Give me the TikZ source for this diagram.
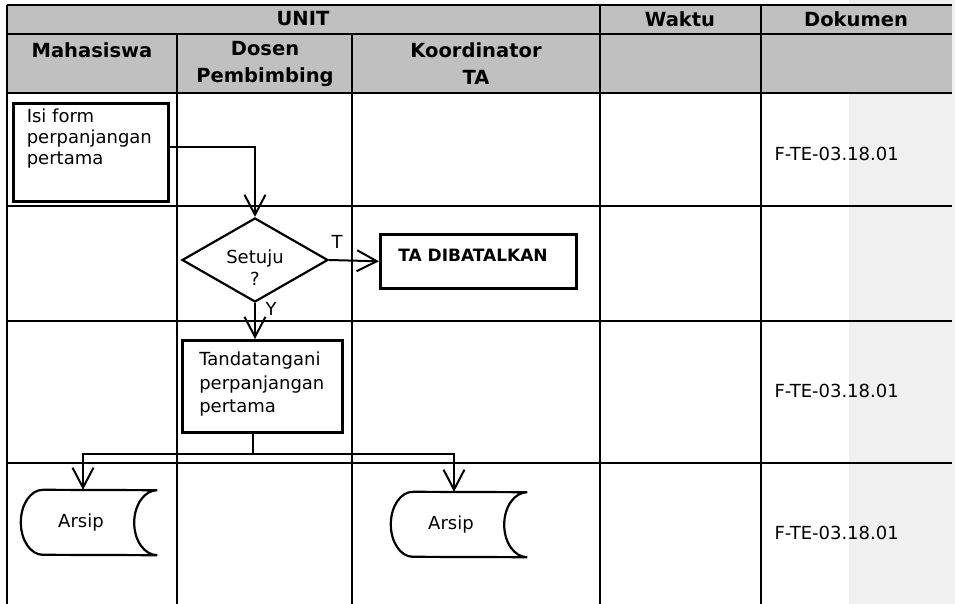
\documentclass[tikz,border=0pt]{standalone}
\usepackage{fontspec}
\setmainfont{DejaVu Sans}
\usetikzlibrary{shapes.geometric,arrows.meta}

\definecolor{headgray}{HTML}{C0C0C0}
\definecolor{stripgray}{HTML}{F0F0F0}

\begin{document}
\begin{tikzpicture}[x=1pt, y=-1pt, >={Straight Barb[length=20pt,width=21pt]},
  every node/.style={font=\fontsize{18}{22}\selectfont},
  grid/.style={line width=2.2pt},
  head/.style={font=\bfseries\fontsize{19.5}{27}\selectfont, align=center},
  proc/.style={draw, line width=2.6pt, anchor=north west},
  decision/.style={diamond, draw, line width=2.2pt, aspect=1.74, minimum width=146pt, minimum height=84pt, inner sep=0pt},
  store/.style={minimum width=136pt, minimum height=65pt, inner sep=0pt},
  conn/.style={line width=2pt},
  flow/.style={->, line width=2pt}]

\useasboundingbox (0,0) rectangle (955,604);

% Background
\fill[stripgray] (849,0) rectangle (955,604);
\fill[headgray] (7,5) rectangle (952,93);

% Table lines
\foreach \y in {5,34,93,206,321,463} \draw[grid] (7,\y) -- (952,\y);
\foreach \x in {7,600,761} \draw[grid] (\x,5) -- (\x,604);
\foreach \x in {177,352} \draw[grid] (\x,34) -- (\x,604);

% Header
\node (unit) at (303,19) [head] {UNIT};
\node (waktu) at (680,19) [head] {Waktu};
\node (dokumen) at (856,19) [head] {Dokumen};
\node (mhs) at (92,50) [head] {Mahasiswa};
\node (dosen) at (265,64) [head] {Dosen\\Pembimbing};
\node (koord) at (476,64) [head] {Koordinator\\TA};

% Documents
\node (doc1) at (771,154) [anchor=west] {F-TE-03.18.01};
\node (doc2) at (771,391) [anchor=west] {F-TE-03.18.01};
\node (doc3) at (771,533) [anchor=west] {F-TE-03.18.01};

% Process nodes
\node (isi) at (12,102) [proc, inner xsep=13.5pt, inner ysep=6pt] {\parbox[c][86pt][t]{128pt}{\fontsize{18}{21}\selectfont Isi form\\perpanjangan\\pertama}};
\node (setuju) at (255,260) [decision] {\raisebox{-12pt}[0pt][0pt]{\parbox[c]{70pt}{\centering Setuju\\?}}};
\node (batal) at (379,233) [proc, inner xsep=18pt, inner ysep=15pt] {\parbox[c][24pt][t]{160pt}{\bfseries\fontsize{17}{22}\selectfont TA DIBATALKAN}};
\node (tanda) at (181,339) [proc, inner xsep=17pt, inner ysep=12pt] {\parbox[c][68pt][t]{126pt}{\fontsize{18}{23.5}\selectfont Tandatangani\\perpanjangan\\pertama}};

% Archive nodes
\node (arsipa) at (89,522.5) [store] {Arsip\hspace*{16pt}};
\node (arsipb) at (459,524.5) [store] {Arsip\hspace*{16pt}};
\foreach \n in {arsipa,arsipb}
  \draw[line width=2.2pt] ([xshift=22pt]\n.north west) arc[start angle=90, end angle=270, x radius=22pt, y radius=32.5pt]
    -- (\n.south east) arc[start angle=270, end angle=90, x radius=23pt, y radius=32.5pt] -- cycle;

% Branch labels
\node (tlab) at (337,242) {T};
\node (ylab) at (271,309) {Y};

% Connectors
\draw[flow] ([yshift=5pt]isi.east) -| (setuju.north);
\draw[flow] (setuju.east) -- (batal.west);
\draw[flow] (setuju.south) -- (setuju.south |- tanda.north);
\coordinate (split) at (253,454);
\draw[conn] (split |- tanda.south) -- (split);
\draw[flow] (split) -| ([xshift=-6pt]arsipa.north);
\draw[flow] (split) -| ([xshift=-5pt]arsipb.north);

\end{tikzpicture}
\end{document}
